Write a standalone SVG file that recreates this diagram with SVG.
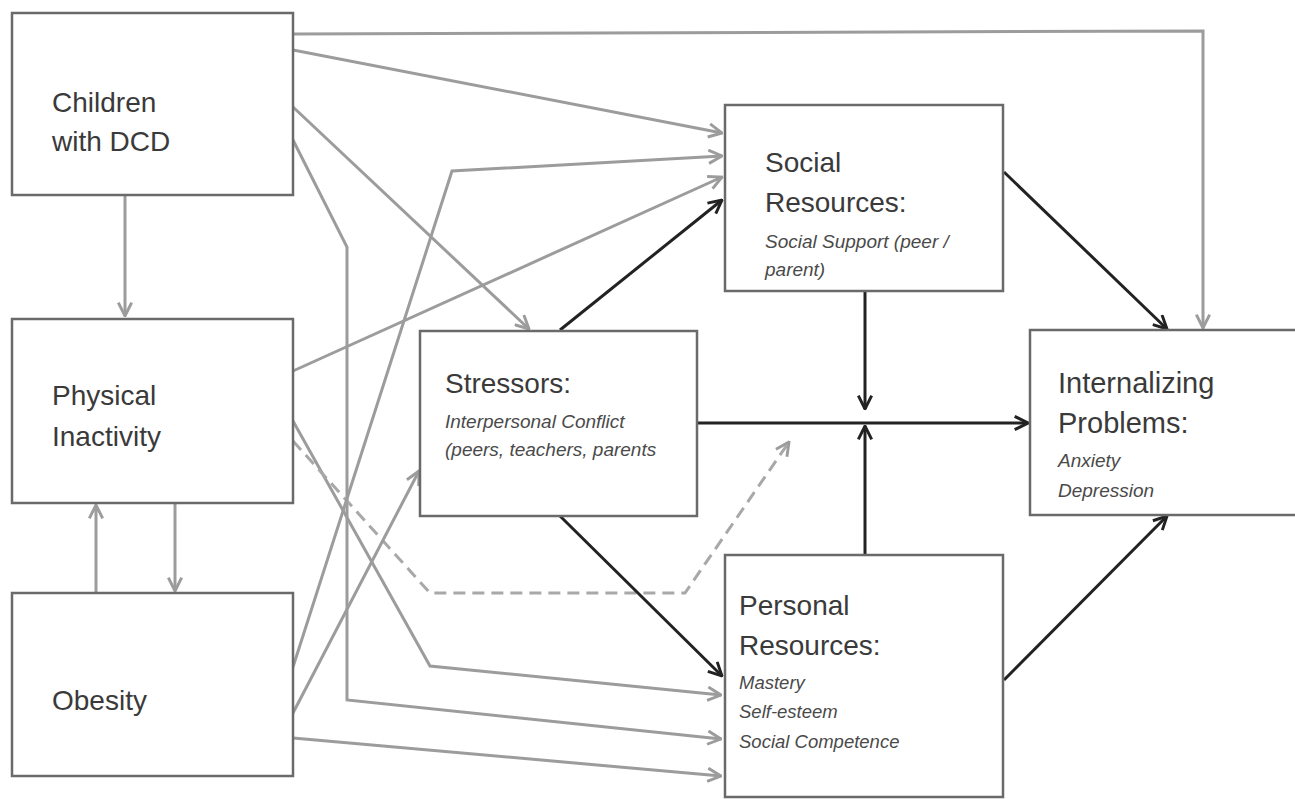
<svg xmlns="http://www.w3.org/2000/svg" width="1295" height="799" viewBox="0 0 1295 799">
<style>
.box{fill:#fff;stroke:#6a6a6a;stroke-width:2.5}
.t{font-family:"Liberation Sans",Arial,sans-serif;font-size:28px;fill:#3a3a3a}
.s{font-family:"Liberation Sans",Arial,sans-serif;font-size:19px;font-style:italic;fill:#4a4a4a}
.g{fill:none;stroke:#9c9c9c;stroke-width:3;marker-end:url(#ag)}
.gd{fill:none;stroke:#a8a8a8;stroke-width:3;stroke-dasharray:12 7;marker-end:url(#ag)}
.k{fill:none;stroke:#222;stroke-width:3;marker-end:url(#ak)}
</style>
<defs>
<marker id="ag" viewBox="0 0 12 12" refX="11" refY="6" markerWidth="16" markerHeight="16" markerUnits="userSpaceOnUse" orient="auto"><path d="M1,1 L11,6 L1,11" fill="none" stroke="#9c9c9c" stroke-width="2.2"/></marker>
<marker id="ak" viewBox="0 0 12 12" refX="11" refY="6" markerWidth="16" markerHeight="16" markerUnits="userSpaceOnUse" orient="auto"><path d="M1,1 L11,6 L1,11" fill="none" stroke="#222" stroke-width="2.2"/></marker>
</defs>
<rect width="1295" height="799" fill="#fff"/>
<g id="connectors">
<path class="g" d="M293,34 L1203,31 L1203,328"/>
<path class="g" d="M293,50 L722,133"/>
<path class="g" d="M293,107 L529,329"/>
<path class="g" d="M293,140 L347,247 L347,700 L721,739"/>
<path class="g" d="M125,196 L125,316"/>
<path class="g" d="M96,593 L96,505"/>
<path class="g" d="M175,504 L175,591"/>
<path class="g" d="M293,371 L722,177"/>
<path class="g" d="M293,421 L430,666 L721,695"/>
<path class="gd" d="M293,441 L430,593 L685,593 L789,442"/>
<path class="g" d="M293,667 L452,171 L722,156"/>
<path class="g" d="M293,713 L419,471"/>
<path class="g" d="M293,738 L721,776"/>
<path class="k" d="M560,330 L722,200"/>
<path class="k" d="M560,516 L722,676"/>
<path class="k" d="M698,423 L1028,423"/>
<path class="k" d="M865,291 L865,409"/>
<path class="k" d="M865,555 L865,426"/>
<path class="k" d="M1004,172 L1167,329"/>
<path class="k" d="M1004,680 L1167,516"/>
</g>
<g id="dcd">
<rect class="box" x="12" y="13" width="281" height="182"/>
<text class="t" x="52" y="112">Children</text>
<text class="t" x="52" y="151">with DCD</text>
</g>
<g id="inactivity">
<rect class="box" x="12" y="319" width="281" height="184"/>
<text class="t" x="52" y="405">Physical</text>
<text class="t" x="52" y="446">Inactivity</text>
</g>
<g id="obesity">
<rect class="box" x="12" y="593" width="281" height="183"/>
<text class="t" x="52" y="710">Obesity</text>
</g>
<g id="stressors">
<rect class="box" x="420" y="331" width="277" height="185"/>
<text class="t" x="445" y="393">Stressors:</text>
<text class="s" x="445" y="428">Interpersonal Conflict</text>
<text class="s" x="445" y="456">(peers, teachers, parents</text>
</g>
<g id="social">
<rect class="box" x="725" y="105" width="278" height="186"/>
<text class="t" x="765" y="172">Social</text>
<text class="t" x="765" y="212">Resources:</text>
<text class="s" x="765" y="248">Social Support (peer /</text>
<text class="s" x="765" y="276">parent)</text>
</g>
<g id="personal">
<rect class="box" x="725" y="555" width="278" height="242"/>
<text class="t" x="739" y="615">Personal</text>
<text class="t" x="739" y="655">Resources:</text>
<text class="s" x="739" y="689" style="font-size:18.5px">Mastery</text>
<text class="s" x="739" y="718" style="font-size:18.5px">Self-esteem</text>
<text class="s" x="739" y="748" style="font-size:18.5px">Social Competence</text>
</g>
<g id="internalizing">
<rect class="box" x="1030" y="330" width="270" height="185"/>
<text class="t" x="1058" y="393" style="font-size:29px">Internalizing</text>
<text class="t" x="1058" y="433" style="font-size:29px">Problems:</text>
<text class="s" x="1058" y="467">Anxiety</text>
<text class="s" x="1058" y="497">Depression</text>
</g>
</svg>
